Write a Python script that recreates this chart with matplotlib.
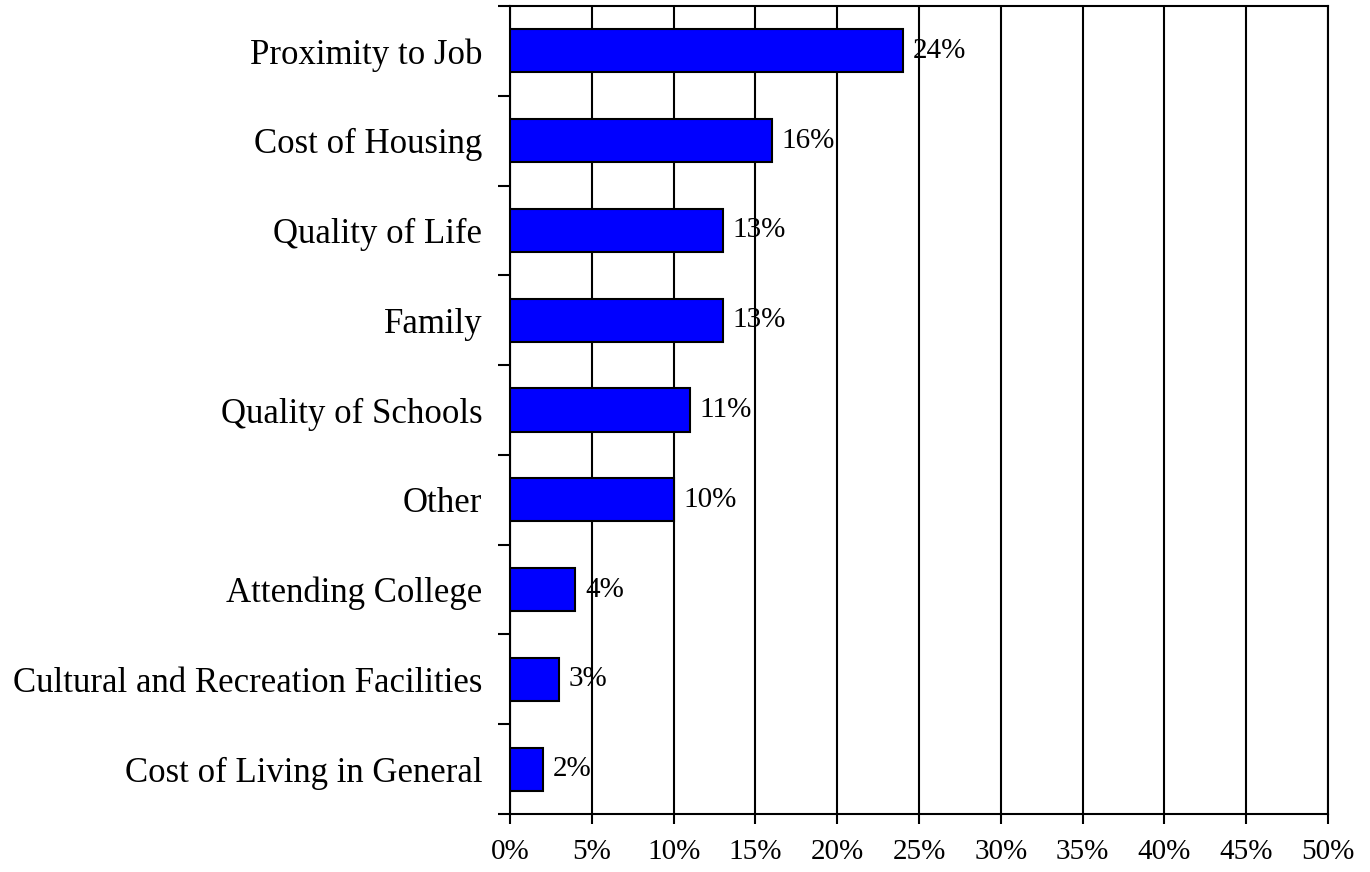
import matplotlib.pyplot as plt
import numpy as np
from matplotlib.ticker import FixedLocator, PercentFormatter

categories = ["Proximity to Job", "Cost of Housing", "Quality of Life", "Family",
              "Quality of Schools", "Other", "Attending College",
              "Cultural and Recreation Facilities", "Cost of Living in General"]
values = [24, 16, 13, 13, 11, 10, 4, 3, 2]

plt.rcParams['font.family'] = ['Liberation Serif', 'DejaVu Serif']

fig = plt.figure(figsize=(13.7, 8.72), dpi=100)
ax = fig.add_axes([0.3723, 0.0665, 0.9693 - 0.3723, 0.9931 - 0.0665])

y = np.arange(len(categories))
ax.barh(y, values, height=0.48, color="#0000FF", edgecolor="black", linewidth=1.5, zorder=3)

# value labels sit under the gridlines, like the original
for yi, v in zip(y, values):
    ax.annotate(f"{v}%", (v, yi), xytext=(7, 0), textcoords="offset points",
                va="center", ha="left", fontsize=21, zorder=0.5)

ax.set_xlim(0, 50)
ax.set_ylim(len(categories) - 0.5, -0.5)
ax.set_xticks(np.arange(0, 51, 5))
ax.xaxis.set_major_formatter(PercentFormatter(decimals=0))
ax.grid(axis="x", color="black", linewidth=1.5, zorder=1)
ax.set_axisbelow(False)
ax.patch.set_zorder(0)

ax.set_yticks(y)
ax.set_yticklabels(categories, fontsize=25)
ax.yaxis.set_minor_locator(FixedLocator(np.arange(-0.5, len(categories), 1)))
ax.tick_params(axis="y", which="major", length=0, pad=20)
ax.tick_params(axis="y", which="minor", length=9, width=1.5)
ax.tick_params(axis="x", length=7, width=1.5, labelsize=21, pad=11)

for s in ax.spines.values():
    s.set_linewidth(1.5)

fig.savefig("out.png", dpi=100)
